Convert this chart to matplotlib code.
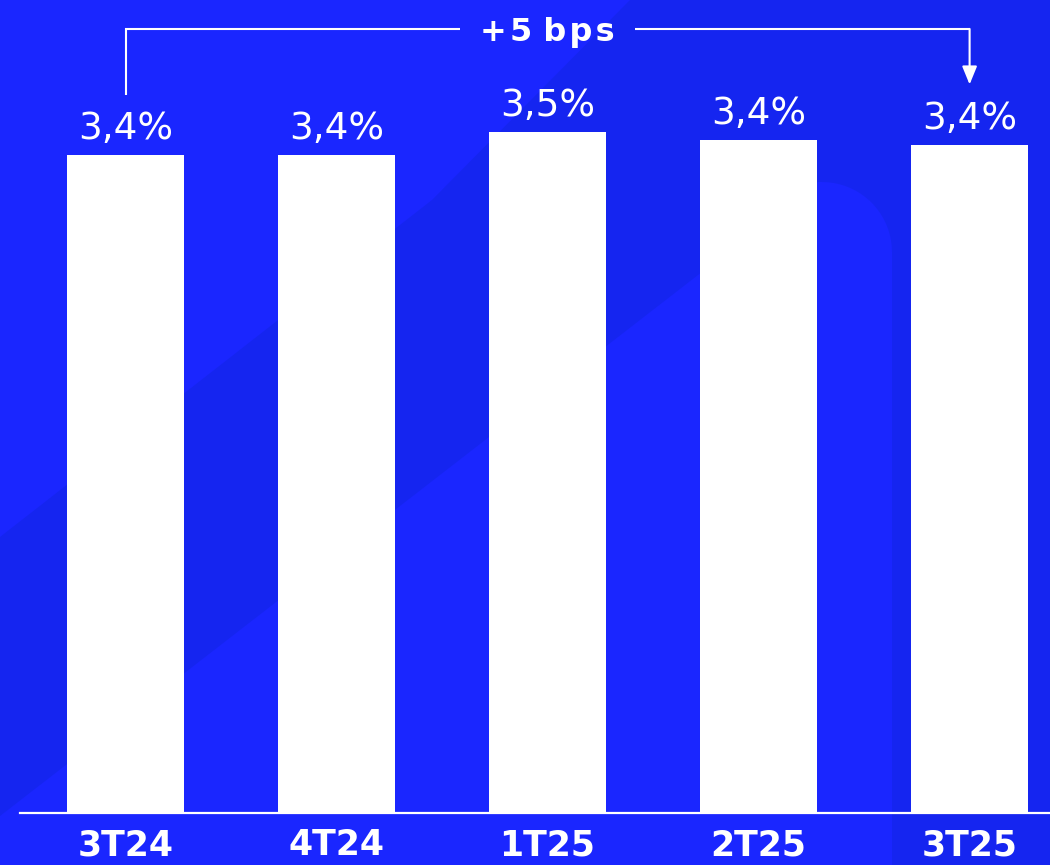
import numpy as np
import matplotlib
matplotlib.use("Agg")
import matplotlib.pyplot as plt
from matplotlib.patches import Polygon
from matplotlib.transforms import Affine2D

# ---- data ----
categories = ["3T24", "4T24", "1T25", "2T25", "3T25"]
values = [3.40, 3.40, 3.52, 3.48, 3.45]
value_labels = ["3,4%", "3,4%", "3,5%", "3,4%", "3,4%"]
change_label = "+\u200a5 b\u200ap\u200as"

# ---- style ----
DARK = "#1525F0"
LIGHT = "#1A26FF"
W, H = 1050, 865

fig = plt.figure(figsize=(W / 100, H / 100), dpi=100)
fig.patch.set_facecolor(DARK)

# decorative background shapes (in pixel coords of the figure)
pix = Affine2D().scale(1 / W, -1 / H).translate(0, 1) + fig.transFigure
poly1 = Polygon([(0, 0), (630, 0), (432, 200), (0, 537)], closed=True,
                facecolor=LIGHT, edgecolor="none", transform=pix, zorder=0)
r = 70
cx, cy = 892 - r, 182 + r
theta = np.linspace(np.pi / 2, 0, 20)
arc = [(cx + r * np.cos(t), cy - r * np.sin(t)) for t in theta]
pts2 = [(0, 816), (818, 182)] + arc + [(892, H), (0, H)]
poly2 = Polygon(pts2, closed=True, facecolor=LIGHT, edgecolor="none",
                transform=pix, zorder=0)
fig.add_artist(poly1)
fig.add_artist(poly2)

ax = fig.add_axes([20 / W, 52 / H, 1030 / W, 813 / H])
ax.patch.set_visible(False)
x = np.arange(len(categories))
ax.bar(x, values, width=0.555, color="white", zorder=2)
ax.set_xlim(-0.5, 4.381)
ax.set_ylim(0, 4.2016)

for s in ["top", "right", "left"]:
    ax.spines[s].set_visible(False)
ax.spines["bottom"].set_color("white")
ax.spines["bottom"].set_linewidth(1.6)
ax.spines["bottom"].set_zorder(3)
ax.set_yticks([])
ax.set_xticks(x)
ax.set_xticklabels(categories, color="white", fontsize=25, fontweight="bold",
                   family="DejaVu Sans", va="baseline")
ax.tick_params(axis="x", length=0, pad=30.5)

for xi, v, lab in zip(x, values, value_labels):
    ax.annotate(lab, (xi, v), xytext=(0, 11.5), textcoords="offset points",
                ha="center", va="baseline", color="white", fontsize=27,
                family="DejaVu Sans")

# bracket annotation
by = 4.052
y0 = values[0] + 0.31
y1 = values[-1] + 0.315
mid = (x[0] + x[-1]) / 2
gap = 0.415
lw = 1.5
ax.plot([x[0], x[0], mid - gap], [y0, by, by], color="white", lw=lw,
        solid_capstyle="butt", solid_joinstyle="miter", clip_on=False)
ax.plot([mid + gap, x[-1]], [by, by], color="white", lw=lw,
        solid_capstyle="butt", clip_on=False)
ax.annotate("", xy=(x[-1], y1), xytext=(x[-1], by),
            arrowprops=dict(arrowstyle="-|>,head_length=1.1,head_width=0.45",
                            color="white", lw=lw, shrinkA=0, shrinkB=0),
            annotation_clip=False)
ax.text(mid, by, change_label, ha="center", va="center_baseline",
        color="white", fontsize=23, fontweight="bold", family="DejaVu Sans")

fig.savefig("out.png", dpi=100, facecolor=fig.get_facecolor())
